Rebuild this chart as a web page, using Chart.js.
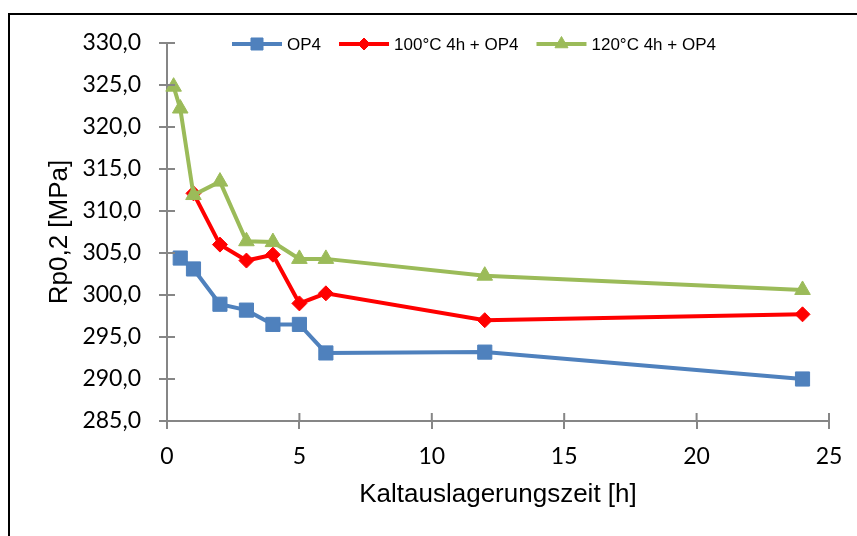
<!DOCTYPE html>
<html lang="de">
<head>
<meta charset="utf-8">
<title>Rp0,2 Kaltauslagerung</title>
<script src="https://cdn.jsdelivr.net/npm/chart.js"></script>
<style>
  html, body { margin: 0; padding: 0; background: #fff; }
  #wrap { position: relative; width: 857px; height: 536px; overflow: hidden; }
  #frame { position: absolute; left: 8px; top: 13px; width: 900px; height: 600px;
           border-left: 2px solid #000; border-top: 2px solid #000; }
  #chart { position: absolute; left: 0; top: 0; }
</style>
</head>
<body>
<div id="wrap">
  <div id="frame"></div>
  <canvas id="chart" width="857" height="536"></canvas>
</div>
<script>
// Kaltauslagerungszeit in Stunden, je Versuchsreihe
const hoursOP4 = [0.5, 1, 2, 3, 4, 5, 6, 12, 24];
const rpOP4 = [304.4, 303.1, 298.9, 298.2, 296.5, 296.5, 293.1, 293.2, 290.0];

const hours100 = [1, 2, 3, 4, 5, 6, 12, 24];
const rp100 = [312.1, 306.0, 304.1, 304.8, 299.0, 300.2, 297.0, 297.7];

const hours120 = [0.25, 0.5, 1, 2, 3, 4, 5, 6, 12, 24];
const rp120 = [324.8, 322.2, 311.9, 313.5, 306.4, 306.3, 304.3, 304.3, 302.3, 300.6];

const seriesNames = ['OP4', '100°C 4h + OP4', '120°C 4h + OP4'];
const xTicks = [0, 5, 10, 15, 20, 25];
const yTicks = [285, 290, 295, 300, 305, 310, 315, 320, 325, 330];

const AXIS_GREY = '#868686';
const TICK_LEN = 8;

function points(xs, ys) {
  return xs.map((x, i) => ({ x: x, y: ys[i] }));
}

function series(label, xs, ys, color, style, radius, order) {
  return {
    label: label,
    data: points(xs, ys),
    showLine: true,
    borderColor: color,
    backgroundColor: color,
    borderWidth: 4,
    tension: 0,
    pointStyle: style,
    pointRadius: radius,
    pointHoverRadius: radius,
    pointBackgroundColor: color,
    pointBorderColor: color,
    pointBorderWidth: 1,
    clip: false,
    order: order
  };
}

// inner half of the crossing tick marks (outer half comes from the grid ticks)
const innerTicks = {
  id: 'innerTicks',
  afterDraw(chart) {
    const { ctx } = chart;
    const xs = chart.scales.x, ys = chart.scales.y;
    ctx.save();
    ctx.strokeStyle = AXIS_GREY;
    ctx.lineWidth = 2;
    ctx.beginPath();
    xTicks.forEach(v => {
      const px = xs.getPixelForValue(v);
      ctx.moveTo(px, ys.bottom);
      ctx.lineTo(px, ys.bottom - TICK_LEN);
    });
    yTicks.forEach(v => {
      const py = ys.getPixelForValue(v);
      ctx.moveTo(xs.left, py);
      ctx.lineTo(xs.left + TICK_LEN, py);
    });
    ctx.stroke();
    ctx.restore();
  }
};

// legend drawn inside the plot area, line sample with marker in the middle
const insideLegend = {
  id: 'insideLegend',
  afterDatasetsDraw(chart) {
    const { ctx, chartArea } = chart;
    const y = chartArea.top + 1;
    let x = chartArea.left + 65;
    ctx.save();
    ctx.font = '17px "Liberation Sans", Arial, sans-serif';
    ctx.textBaseline = 'middle';
    ctx.textAlign = 'left';
    chart.data.datasets.forEach(ds => {
      ctx.strokeStyle = ds.borderColor;
      ctx.lineWidth = ds.borderWidth;
      ctx.beginPath();
      ctx.moveTo(x, y);
      ctx.lineTo(x + 50, y);
      ctx.stroke();
      ctx.fillStyle = ds.pointBackgroundColor;
      ctx.strokeStyle = ds.pointBorderColor;
      ctx.lineWidth = 1;
      Chart.helpers.drawPoint(ctx, { pointStyle: ds.pointStyle, radius: ds.pointRadius - 1.5, borderWidth: 1, rotation: 0 }, x + 25, y);
      ctx.fillStyle = '#000';
      ctx.fillText(ds.label, x + 55, y + 1);
      x += 55 + ctx.measureText(ds.label).width + 18;
    });
    ctx.restore();
  }
};

new Chart(document.getElementById('chart'), {
  type: 'scatter',
  data: {
    datasets: [
      series(seriesNames[0], hoursOP4, rpOP4, '#4F81BD', 'rect', 10, 2),
      series(seriesNames[1], hours100, rp100, '#FF0000', 'rectRot', 7.5, 1),
      series(seriesNames[2], hours120, rp120, '#9BBB59', 'triangle', 9, 0)
    ]
  },
  options: {
    responsive: false,
    animation: false,
    devicePixelRatio: 1,
    layout: { padding: { left: 0, top: 43, right: 28, bottom: 0 } },
    plugins: {
      legend: { display: false },
      tooltip: { enabled: false }
    },
    scales: {
      x: {
        type: 'linear',
        min: 0,
        max: 25,
        afterFit(scale) { scale.height = 115; },
        afterBuildTicks(scale) { scale.ticks = xTicks.map(v => ({ value: v })); },
        border: { display: true, color: AXIS_GREY, width: 2 },
        grid: { drawOnChartArea: false, drawTicks: true, tickLength: TICK_LEN, color: AXIS_GREY, lineWidth: 2 },
        ticks: {
          padding: 14,
          color: '#000',
          font: { family: 'Lato, "Open Sans", sans-serif', size: 23 },
          maxRotation: 0
        },
        title: {
          display: true,
          text: 'Kaltauslagerungszeit [h]',
          color: '#000',
          font: { family: '"Liberation Sans", Arial, sans-serif', size: 26 },
          padding: { top: 0, bottom: 26 }
        }
      },
      y: {
        type: 'linear',
        min: 285,
        max: 330,
        afterFit(scale) { scale.width = 167; },
        afterBuildTicks(scale) { scale.ticks = yTicks.map(v => ({ value: v })); },
        border: { display: true, color: AXIS_GREY, width: 2 },
        grid: { drawOnChartArea: false, drawTicks: true, tickLength: TICK_LEN, color: AXIS_GREY, lineWidth: 2 },
        ticks: {
          padding: 18,
          color: '#000',
          font: { family: 'Lato, "Open Sans", sans-serif', size: 23 },
          callback: v => v.toFixed(1).replace('.', ',')
        },
        title: {
          display: true,
          text: 'Rp0,2 [MPa]',
          color: '#000',
          font: { family: '"Liberation Sans", Arial, sans-serif', size: 26 },
          padding: { top: 44, bottom: 0 }
        }
      }
    }
  },
  plugins: [innerTicks, insideLegend]
});
</script>
</body>
</html>
